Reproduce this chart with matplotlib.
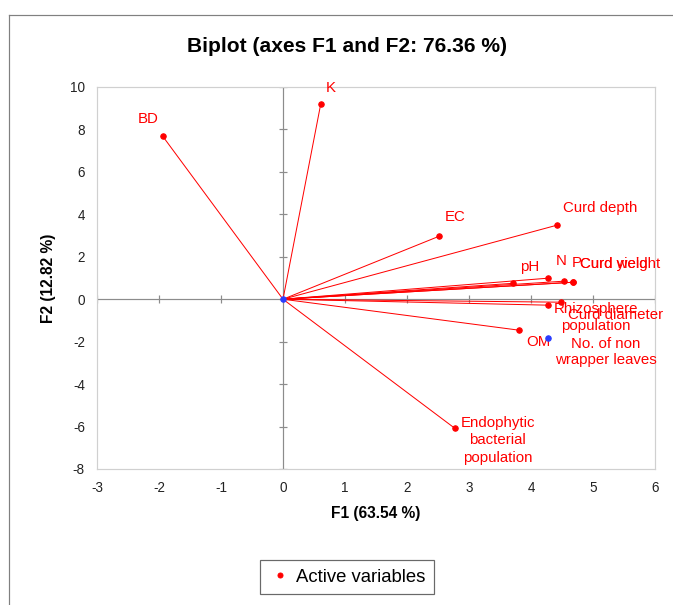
import matplotlib.pyplot as plt
from matplotlib.lines import Line2D

# PCA biplot, F1 vs F2
variables = ["BD", "K", "EC", "Curd depth", "N", "P", "Curd yield", "Curd weight",
             "pH", "Rhizosphere\npopulation", "Curd diameter", "OM",
             "Endophytic\nbacterial\npopulation"]
f1 = [-1.94, 0.61, 2.52, 4.42, 4.27, 4.53, 4.68, 4.68, 3.71, 4.27, 4.48, 3.81, 2.77]
f2 = [7.68, 9.22, 2.97, 3.49, 0.99, 0.85, 0.80, 0.80, 0.75, -0.28, -0.14, -1.46, -6.08]

# supplementary point (drawn blue, no vector)
supp_name = "No. of non\nwrapper leaves"
supp_f1 = 4.27
supp_f2 = -1.84

xticks = list(range(-3, 7))
yticks = list(range(-8, 11, 2))

# label offsets in pixels (dpi = 72 -> points == pixels)
label_pos = {
    "BD": (-15, 17, "center", "center"),
    "K": (10, 16, "center", "center"),
    "EC": (16, 19, "center", "center"),
    "Curd depth": (6, 17, "left", "center"),
    "N": (13, 17, "center", "center"),
    "P": (8, 18, "left", "center"),
    "Curd yield": (7, 18, "left", "center"),
    "Curd weight": (7, 18, "left", "center"),
    "pH": (17, 16, "center", "center"),
    "Rhizosphere\npopulation": (48, -12, "center", "center"),
    "Curd diameter": (7, -13, "left", "center"),
    "OM": (19, -12, "center", "center"),
    "Endophytic\nbacterial\npopulation": (43, -12, "center", "center"),
}

red = "#ff0000"
blue = "#2a3cff"
plt.rcParams["font.family"] = ["Liberation Sans", "DejaVu Sans"]
plt.rcParams["axes.unicode_minus"] = False

fig = plt.figure(figsize=(673 / 72, 605 / 72), dpi=72)
ax = fig.add_axes([97 / 673, 1 - 469 / 605, 558 / 673, 382 / 605])

ax.set_xlim(-3, 6)
ax.set_ylim(-8, 10)

# zero axes with crossing tick marks
ax.axhline(0, color="#8c8c8c", lw=1.2, zorder=1)
ax.axvline(0, color="#8c8c8c", lw=1.2, zorder=1)
ax.plot(xticks, [0] * len(xticks), ls="none", marker="|", ms=8, mew=1.2,
        color="#8c8c8c", zorder=1)
ax.plot([0] * len(yticks), yticks, ls="none", marker="_", ms=8, mew=1.2,
        color="#8c8c8c", zorder=1)

for name, x, y in zip(variables, f1, f2):
    ax.plot([0, x], [0, y], color=red, lw=1, zorder=2)
ax.scatter(f1, f2, s=30, color=red, zorder=3, label="Active variables")
ax.scatter([0], [0], s=30, color=blue, zorder=4)
ax.scatter([supp_f1], [supp_f2], s=30, color=blue, zorder=4)

for name, x, y in zip(variables, f1, f2):
    dx, dy, ha, va = label_pos[name]
    ax.annotate(name, (x, y), xytext=(dx, dy), textcoords="offset points",
                ha=ha, va=va, color=red, fontsize=15, linespacing=1.3)
ax.annotate(supp_name, (supp_f1, supp_f2), xytext=(58, -14),
            textcoords="offset points", ha="center", va="center",
            color=red, fontsize=15, linespacing=1.2)

ax.set_xticks(xticks)
ax.set_yticks(yticks)
ax.tick_params(length=0, labelsize=13.5, colors="#222222", pad=12)
for sp in ax.spines.values():
    sp.set_color("#d0d0d0")
    sp.set_linewidth(1.2)

ax.set_xlabel("F1 (63.54 %)", fontsize=15.5, fontweight="bold", labelpad=11)
ax.set_ylabel("F2 (12.82 %)", fontsize=15.5, fontweight="bold", labelpad=14)
fig.text(347 / 673, 1 - 47 / 605, "Biplot (axes F1 and F2: 76.36 %)",
         ha="center", va="center", fontsize=21, fontweight="bold")

# outer chart border (cropped on right/bottom)
fig.add_artist(Line2D([9 / 673, 9 / 673], [0, 1 - 15 / 605],
                      transform=fig.transFigure, color="#808080", lw=1.2))
fig.add_artist(Line2D([9 / 673, 1], [1 - 15 / 605, 1 - 15 / 605],
                      transform=fig.transFigure, color="#808080", lw=1.2))

leg = fig.legend(handles=[Line2D([], [], ls="none", marker="o", ms=5, color=red)],
                 labels=["Active variables"], loc="center",
                 bbox_to_anchor=(347 / 673, 1 - 577 / 605), fontsize=18.5,
                 frameon=True, fancybox=False, handletextpad=0.3,
                 borderpad=0.45, handlelength=1.2)
leg.get_frame().set_edgecolor("#444444")
leg.get_frame().set_linewidth(1.2)

fig.savefig("out.png", dpi=72)
